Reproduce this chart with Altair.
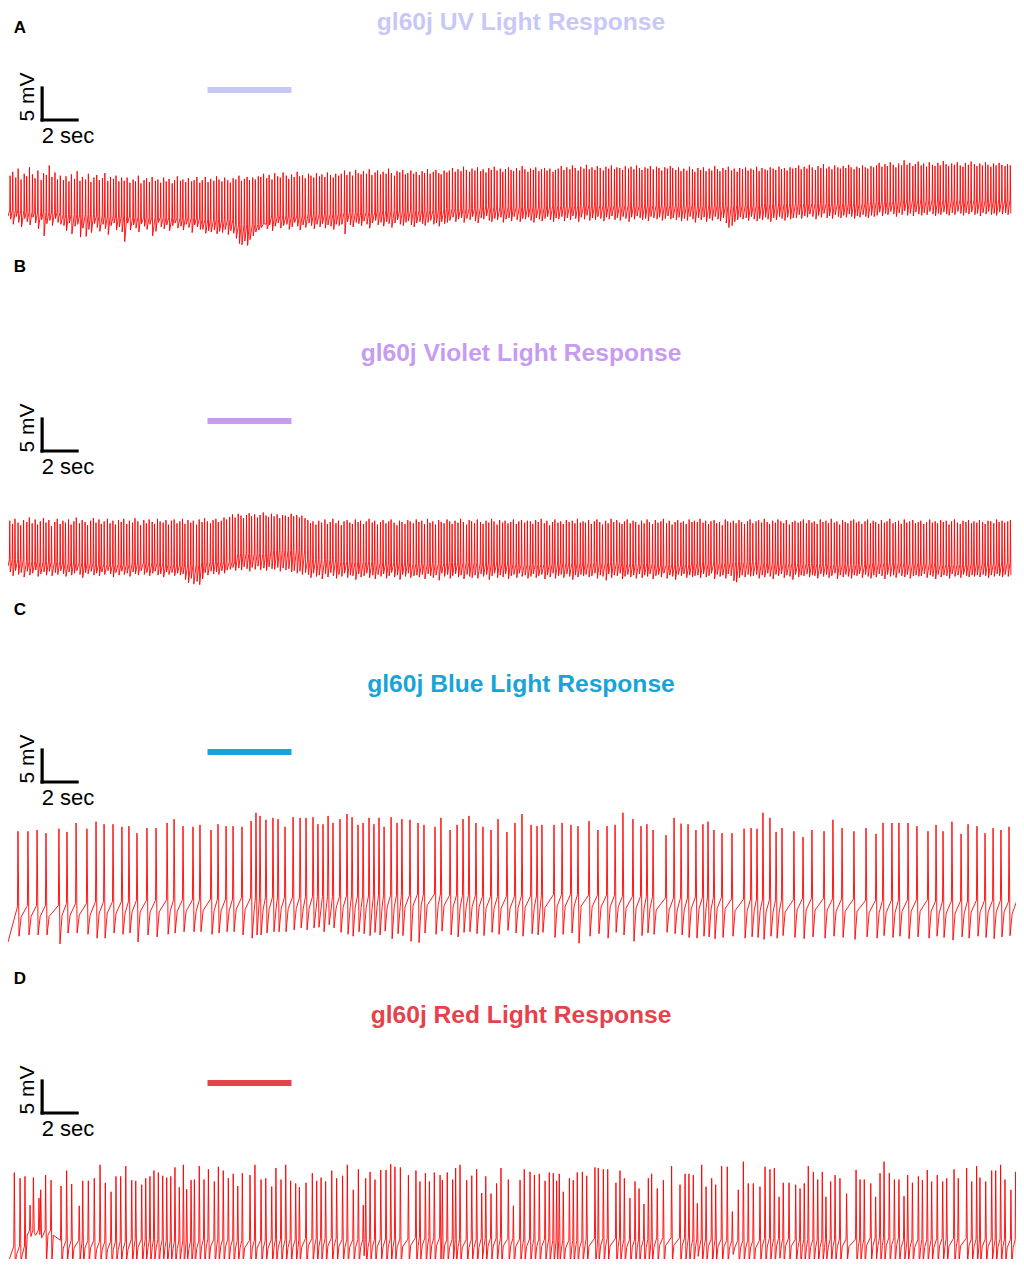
import altair as alt
import pandas as pd

# ---------------- sweep description (data units) ----------------
DURATION_S = 57.6             # seconds shown per sweep
MV_TOP = -20.0                # membrane potential at top of each panel
PX_PER_MV = 6.4               # layout: vertical scale (5 mV = 32 px)
SCALE_T0, SCALE_T = 1.95, 2.0         # "2 sec" scale bar
SCALE_V0, SCALE_V = -37.5, 5.0        # "5 mV" scale bar
STIM_ON, STIM_OFF, STIM_LEVEL = 11.4, 16.2, -32.8

TITLES = ["gl60j UV Light Response", "gl60j Violet Light Response",
          "gl60j Blue Light Response", "gl60j Red Light Response"]
COLORS = ["#c8c8f8", "#c79cf0", "#17a4d9", "#e6424b"]
START_MV = [-52.5, -55.5, -62.5, -61.0]

# ---------------- panel A (UV) ----------------
A_FIRST_S = 0.12
A_ISI_MS = [
    150,172,138,165,181,142,158,170,149,163,185,140,156,168,152,175,144,161,178,147,
    166,143,177,152,160,139,184,157,146,171,162,148,180,136,167,155,173,141,164,159,
    145,169,158,183,137,162,150,176,143,165,154,188,141,159,170,147,163,178,135,161,
    174,140,163,151,186,144,157,168,139,172,160,149,181,153,142,167,158,175,146,162,
    153,179,142,166,158,137,182,150,169,144,161,176,139,164,155,171,148,160,183,141,
    162,148,171,139,165,157,184,143,160,152,177,136,168,149,173,158,141,166,155,180,
    140,167,155,178,146,161,137,172,159,150,185,143,164,153,170,138,162,176,147,158,
    169,151,138,174,160,145,181,156,142,167,153,179,148,163,136,171,157,144,175,161,
    155,172,147,160,183,139,166,152,178,141,163,157,145,170,159,186,143,154,168,150,
    147,165,180,142,158,171,149,163,137,176,155,168,144,161,182,140,157,173,152,166,
    176,143,159,168,150,183,141,162,155,170,138,165,178,146,160,153,174,139,167,158,
    159,181,145,163,152,169,140,175,157,148,166,184,142,161,171,150,164,137,179,154,
    143,160,174,151,167,138,177,155,162,145,181,149,168,156,141,173,160,147,185,152,
    168,146,157,180,140,164,153,171,145,162,176,139,158,167,151,182,143,165,154,170,
    151,177,163,144,172,156,139,168,181,147,160,153,174,142,166,158,179,146,161,149,
    164,139,170,157,148,175,162,141,183,152,167,145,159,176,138,163,171,150,157,168,
    146,169,152,178,143,161,174,140,165,156,181,148,162,137,172,159,145,177,153,166,
    171,154,141,167,159,185,147,163,150,176,139,168,155,142,173,160,179,144,158,151,
]
A_PEAK_MV = [
    -46.2,-45.6,-46.5,-45.1,-46.8,-45.9,-46.3,-44.9,-46.0,-46.6,-45.4,-46.9,-45.8,-46.1,-44.6,-46.4,-45.7,-46.8,-46.2,
    -46.9,-46.3,-47.1,-46.0,-46.7,-45.5,-47.0,-46.4,-46.8,-45.9,-47.2,-46.5,-46.1,-46.9,-46.6,-45.8,-47.0,-46.4,-46.7,-46.2,-47.1,-46.5,
    -47.0,-46.5,-47.3,-46.8,-47.1,-46.2,-47.4,-46.9,-46.6,-47.2,-46.4,-47.0,-46.8,-47.3,-46.5,-47.1,-46.7,-47.4,-46.9,-46.3,-47.0,-46.8,-47.2,-46.6,-47.1,-46.9,-46.4,-47.3,
    -46.9,-46.4,-47.2,-46.7,-47.0,-46.3,-46.8,-47.1,-46.5,-46.9,-47.3,-46.6,-46.8,-46.2,-47.0,-46.7,-46.4,-46.9,-46.5,-46.8,-46.3,
    -46.4,-45.9,-46.6,-46.1,-46.8,-45.8,-46.3,-46.5,-45.7,-46.2,-46.7,-46.0,-46.4,-45.6,-46.3,-46.1,-46.6,-45.9,-46.2,-46.5,-45.8,-46.3,-46.0,-46.4,-45.7,-46.1,-46.5,-45.9,-46.2,
    -45.9,-45.4,-46.1,-45.6,-46.2,-45.3,-45.8,-46.0,-45.5,-45.9,-45.2,-46.1,-45.7,-45.4,-46.0,-45.6,-45.9,-45.1,-45.8,-46.2,
    -45.5,-45.7,-45.3,-46.0,-45.8,-45.4,-45.9,-45.6,-46.1,-45.5,-45.8,-45.2,-45.9,-45.6,-45.3,-45.8,-46.0,-45.4,-45.7,
    -45.4,-45.0,-45.6,-45.2,-45.5,-44.8,-45.3,-45.6,-45.1,-45.4,-44.9,-45.5,-45.2,-45.7,-45.0,-45.3,-44.8,-45.4,-45.1,-45.6,
    -45.2,-44.9,-45.3,-45.5,-45.0,-45.4,-44.7,-45.2,-45.6,-45.1,-45.3,-44.9,-45.5,-45.2,-45.0,-45.4,-45.1,-45.6,-45.3,
    -45.1,-44.7,-45.3,-44.9,-45.2,-44.6,-45.0,-45.4,-44.8,-45.1,-44.5,-45.2,-44.9,-45.3,-44.7,-45.0,-45.4,-44.8,-45.1,-44.6,-45.2,
    -44.9,-45.0,-45.3,-44.7,-45.1,-44.8,-45.2,-44.6,-45.0,-45.3,-44.9,-45.1,-44.7,-45.2,-44.8,-45.0,-45.4,-44.9,-45.1,-44.7,-45.0,
    -45.3,-44.9,-45.5,-45.1,-45.4,-44.8,-45.2,-45.6,-45.0,-45.3,-44.9,-45.5,-45.1,-45.4,-44.7,-45.2,-45.5,-45.0,-45.3,-44.8,-45.4,-45.1,
    -45.6,-45.0,-45.2,-44.9,-45.4,-45.1,-45.3,-44.8,-45.5,-45.0,-45.2,-45.4,-44.9,-45.1,-45.3,-44.8,-45.2,-45.0,-45.4,-44.9,-45.1,
    -45.0,-44.6,-45.2,-44.8,-45.1,-44.5,-44.9,-45.3,-44.7,-45.0,-44.4,-45.1,-44.8,-45.2,-44.6,-44.9,-45.1,-44.7,-45.0,-44.5,-44.9,-45.2,-44.8,-45.0,-44.6,-44.9,-45.1,-44.7,-44.9,
    -44.6,-44.2,-44.8,-44.4,-44.7,-44.1,-44.5,-44.9,-44.3,-44.6,-43.8,-44.5,-44.2,-44.7,-44.4,-44.0,-44.6,-44.3,-44.8,-44.1,-44.5,-44.7,-44.2,-44.6,-43.9,
    -44.4,-44.7,-44.3,-44.5,-44.1,-44.6,-44.8,-44.2,-44.5,-44.0,-44.4,-44.7,-44.3,-44.6,-44.1,-44.5,-44.8,-44.3,-44.6,-44.2,-44.5,-44.7,-44.4,-44.6,
]
A_TROUGH_MV = [
    -53.0,-53.8,-52.6,-53.5,-54.2,-52.9,-53.4,-53.9,-52.7,-53.6,-54.5,-53.1,-55.6,-53.7,-53.2,-54.0,-52.9,-53.5,-53.8,
    -54.0,-54.8,-53.6,-55.3,-54.1,-53.8,-55.8,-54.4,-55.7,-54.6,-55.1,-53.7,-54.3,-54.9,-53.8,-54.5,-55.4,-54.0,-53.6,-54.7,-54.2,-55.0,
    -56.5,-53.6,-54.7,-53.9,-54.4,-55.0,-53.7,-54.1,-54.6,-53.8,-55.6,-54.9,-53.5,-54.2,-54.5,-53.9,-54.8,-54.0,-53.6,-54.4,-54.1,-54.7,-53.8,-54.3,-55.1,-53.9,-54.2,-54.6,
    -54.6,-55.2,-54.8,-55.0,-54.7,-55.3,-54.9,-55.1,-54.6,-55.4,-54.8,-55.2,-56.0,-56.8,-57.0,-56.4,-57.1,-56.2,-55.6,-55.0,-54.7,
    -54.3,-53.7,-54.5,-53.9,-54.8,-54.1,-53.6,-54.4,-54.0,-53.8,-54.6,-54.2,-53.5,-54.1,-54.7,-53.9,-54.3,-53.6,-54.0,-54.5,-53.8,-54.2,-53.7,-54.4,-53.9,-54.1,-54.6,-53.8,-54.0,
    -53.8,-55.3,-53.4,-53.9,-54.2,-53.5,-53.7,-54.0,-53.3,-53.8,-54.4,-53.6,-53.2,-53.9,-53.5,-54.1,-53.4,-53.7,-54.3,-53.6,
    -53.1,-53.8,-54.0,-53.5,-53.3,-53.9,-54.2,-53.6,-53.4,-53.7,-54.0,-53.5,-53.2,-53.8,-53.6,-54.1,-53.4,-53.7,-53.5,
    -53.2,-52.7,-53.4,-53.0,-52.8,-53.5,-52.9,-53.1,-52.6,-53.3,-53.6,-52.8,-53.0,-52.5,-53.2,-53.4,-52.9,-53.1,-52.7,-53.5,
    -53.0,-52.8,-53.3,-52.6,-53.1,-53.4,-52.9,-53.0,-52.7,-53.2,-53.5,-52.8,-53.0,-53.3,-52.9,-52.6,-53.1,-53.4,-52.8,
    -53.0,-52.6,-53.3,-52.8,-53.1,-52.5,-52.9,-53.4,-52.7,-53.0,-52.4,-53.2,-52.8,-53.1,-52.6,-52.9,-53.3,-52.7,-53.0,-52.5,-53.1,
    -52.8,-53.2,-52.6,-52.9,-53.4,-52.7,-53.0,-52.5,-52.8,-53.1,-52.9,-53.3,-52.6,-52.8,-53.0,-52.7,-53.2,-52.9,-52.5,-53.0,-52.8,
    -53.1,-52.7,-53.3,-52.9,-53.2,-52.6,-53.0,-53.5,-52.8,-53.1,-52.7,-53.4,-52.9,-53.2,-52.6,-53.0,-53.3,-52.8,-53.6,-54.3,-54.0,-53.4,
    -53.1,-52.7,-53.0,-52.8,-53.2,-52.6,-53.0,-53.3,-52.9,-53.1,-52.7,-53.0,-53.4,-52.8,-53.1,-52.6,-52.9,-53.2,-52.7,-53.0,-52.8,
    -52.8,-52.3,-52.9,-52.5,-52.7,-52.2,-52.6,-53.0,-52.4,-52.7,-52.1,-52.8,-52.5,-52.9,-52.3,-52.6,-52.8,-52.4,-52.7,-52.2,-52.6,-52.9,-52.5,-52.7,-52.3,-52.6,-52.8,-52.4,-52.6,
    -52.4,-51.9,-52.5,-52.1,-52.3,-51.8,-52.2,-52.6,-52.0,-52.3,-51.7,-52.4,-52.1,-52.5,-51.9,-52.2,-52.4,-52.0,-52.3,-51.8,-52.2,-52.5,-52.1,-52.3,-51.9,
    -52.2,-52.4,-52.0,-52.3,-51.8,-52.1,-52.4,-52.0,-52.2,-51.9,-52.3,-52.1,-52.5,-52.0,-52.2,-51.8,-52.3,-52.1,-52.4,-51.9,-52.2,-52.0,-52.3,-52.1,
]
A_REST_MV = [-51.6,-51.9,-52.3,-52.5,-52.7,-52.8,-53.1,-53.8,-52.5,-52.2,-51.9,-51.7,-51.6,-51.3,-51.1,
             -51.1,-50.9,-50.8,-50.8,-50.8,-50.8,-50.8,-50.6,-50.5,-50.5,-50.2,-50.0,-50.0,-50.0,-50.0]

# ---------------- panel B (violet) ----------------
B_FIRST_S = 0.10
B_ISI_MS = [
    158,141,176,150,167,183,144,162,171,139,155,178,147,164,152,186,140,169,157,145,
    173,149,160,137,181,154,166,143,175,158,148,169,136,162,184,151,164,142,177,156,
    147,168,153,179,140,163,157,185,144,161,172,138,166,150,174,159,143,170,155,162,
    165,152,139,174,158,146,182,153,167,141,160,176,149,163,137,171,156,145,179,160,
    150,177,161,143,169,155,138,172,164,148,183,157,141,168,153,175,146,162,159,170,
    161,144,173,156,139,178,165,150,142,171,158,167,185,145,160,152,176,140,164,157,
    176,155,146,168,160,137,174,151,163,180,143,159,170,148,166,154,139,172,161,147,
    144,171,159,138,182,164,149,167,153,175,141,160,156,179,146,163,170,152,137,168,
    169,147,163,177,151,140,166,158,184,145,172,154,161,139,175,150,164,143,168,156,
    153,166,142,160,174,157,171,139,162,148,169,181,144,158,163,136,177,155,149,172,
    162,179,150,145,167,153,140,176,159,170,147,163,155,183,141,168,152,174,160,138,
    140,158,172,164,149,181,155,146,168,137,175,160,151,166,144,179,157,162,170,153,
    178,145,157,170,162,139,167,154,173,150,159,142,180,148,165,156,171,138,163,159,
    155,169,148,163,176,143,160,184,146,171,152,166,139,174,157,145,168,161,150,177,
    167,151,181,142,158,172,149,165,138,162,178,154,170,143,161,176,147,159,166,152,
    149,174,160,155,141,168,183,147,164,156,140,173,158,167,150,163,181,144,171,157,
    171,143,166,178,153,160,145,170,157,182,149,164,137,175,152,168,159,146,162,174,
    160,156,170,147,172,138,163,151,179,144,167,155,173,161,142,169,148,177,153,165,
]
B_PEAK_MV = [
    -48.4,-48.9,-48.1,-48.7,-49.1,-48.3,-48.6,-47.9,-48.8,-48.2,-49.0,-48.5,-48.0,-48.7,-48.3,-49.2,-48.6,-48.1,-48.9,-48.4,
    -48.7,-48.2,-49.0,-48.5,-47.9,-48.8,-48.3,-48.6,-49.1,-48.4,-48.0,-48.7,-48.2,-48.9,-48.5,-48.1,-48.8,-48.4,-49.0,-48.3,
    -48.6,-48.1,-48.9,-48.4,-48.7,-48.0,-48.5,-49.1,-48.3,-48.8,-48.2,-48.6,-48.9,-48.1,-48.5,-48.7,-48.3,-49.0,-48.4,-48.2,
    -48.8,-48.5,-48.1,-48.9,-48.3,-48.7,-48.4,-49.0,-48.2,-48.6,-48.0,-48.5,-48.8,-48.3,-48.1,-48.6,-48.4,-47.9,-48.2,
    -47.8,-47.4,-47.9,-47.3,-47.6,-48.0,-47.5,-47.2,-47.7,-47.4,-47.9,-47.5,-47.1,-47.6,-47.8,-47.3,-47.7,-47.4,-48.0,-47.5,
    -47.6,-47.8,-47.3,-47.7,-47.5,-47.9,-47.6,-48.0,
    -48.3,-48.8,-48.5,-49.0,-48.4,-48.7,-48.2,-48.9,-48.6,-48.1,-48.8,-48.4,-49.1,-48.5,-48.3,-48.7,-48.9,-48.2,-48.6,-48.4,
    -48.9,-48.5,-48.1,-48.7,-48.4,-49.0,-48.6,-48.3,-48.8,-48.5,-48.2,-48.7,-49.1,-48.4,-48.6,-48.9,-48.3,-48.5,-48.8,-48.2,
    -48.6,-48.4,-48.9,-48.1,-48.7,-48.5,-49.0,-48.3,-48.6,-48.8,-48.2,-48.5,-48.9,-48.4,-48.7,-48.1,-48.6,-49.0,-48.3,-48.5,
    -48.8,-48.2,-48.6,-48.9,-48.4,-48.7,-48.1,-48.5,-49.0,-48.3,-48.7,-48.4,-48.8,-48.6,-48.2,-48.9,-48.5,-48.3,-48.7,-48.4,
    -48.5,-48.9,-48.3,-48.6,-48.1,-48.8,-48.4,-49.1,-48.6,-48.2,-48.7,-48.5,-48.9,-48.3,-48.6,-48.4,-48.8,-48.1,-48.7,-48.5,
    -48.7,-48.3,-48.9,-48.5,-48.2,-48.6,-49.0,-48.4,-48.8,-48.1,-48.6,-48.3,-48.7,-48.9,-48.5,-48.2,-48.8,-48.4,-48.6,-49.0,
    -48.4,-48.8,-48.2,-48.6,-48.9,-48.3,-48.7,-48.5,-48.1,-48.8,-48.4,-49.0,-48.6,-48.3,-48.7,-48.5,-48.9,-48.2,-48.6,-48.4,
    -48.6,-48.1,-48.7,-48.4,-48.9,-48.5,-48.3,-48.8,-48.6,-49.1,-48.2,-48.5,-48.7,-48.4,-48.8,-48.3,-48.6,-48.9,-48.5,-48.2,
    -48.8,-48.5,-48.3,-48.7,-48.1,-48.6,-48.9,-48.4,-48.7,-48.2,-48.5,-48.8,-48.3,-49.0,-48.6,-48.4,-48.7,-48.5,-48.2,-48.8,
    -48.3,-48.7,-48.5,-48.9,-48.2,-48.6,-48.4,-48.8,-48.1,-48.7,-48.5,-49.0,-48.3,-48.6,-48.8,-48.4,-48.2,-48.7,-48.5,-48.9,
    -48.5,-48.2,-48.8,-48.4,-48.6,-48.9,-48.3,-48.7,-48.5,-48.1,-48.8,-48.6,-48.4,-48.9,-48.2,-48.7,-48.5,-48.3,-48.8,-48.6,
    -48.4,-48.9,-48.6,-48.2,-48.7,-48.5,-48.8,-48.3,-48.6,-48.4,-49.0,-48.5,-48.2,-48.7,-48.9,-48.4,-48.6,-48.3,-48.8,-48.5,
    -48.7,-48.3,-48.6,-48.9,-48.4,-48.5,-48.8,-48.2,-48.6,-48.4,-48.7,-48.5,-48.3,
]
B_TROUGH_MV = [
    -56.4,-57.0,-56.2,-56.8,-56.5,-57.2,-56.3,-56.9,-56.6,-56.1,-57.1,-56.7,-56.4,-56.9,-56.3,-57.0,-56.5,-56.8,-56.2,-56.7,
    -57.1,-56.4,-56.9,-56.6,-56.2,-56.8,-57.3,-56.5,-56.7,-56.3,-56.9,-56.6,-57.0,-56.4,-56.8,-56.2,-56.7,-57.2,-56.5,-56.9,
    -56.3,-56.8,-56.6,-57.1,-56.4,-56.7,-56.9,-56.2,-56.8,-56.5,-57.0,-56.6,-56.3,-56.9,-56.7,-57.2,-56.4,-56.8,-56.5,-57.0,
    -56.6,-56.9,-56.7,
    -57.6,-58.1,-57.4,-58.3,-57.9,-58.4,-57.5,
    -56.5,-56.9,-56.3,-56.7,-56.4,-56.8,-56.2,-56.6,-56.1,
    -56.0,-55.7,-56.2,-55.8,-56.1,-55.6,-55.9,-56.3,-55.7,-56.0,-55.5,-56.1,-55.8,-56.2,-55.6,-55.9,-56.0,-55.7,-56.3,-55.8,
    -56.1,-55.9,-56.4,-56.2,-56.6,-56.3,-56.8,-56.5,
    -56.8,-57.3,-56.6,-57.1,-56.9,-57.5,-56.7,-57.2,-56.5,-57.0,-57.4,-56.8,-57.1,-56.6,-57.3,-56.9,-57.0,-57.6,-56.7,-57.2,
    -57.0,-56.6,-57.3,-56.9,-57.5,-56.8,-57.1,-56.7,-57.4,-57.0,-56.5,-57.2,-56.9,-57.6,-56.8,-57.1,-56.6,-57.3,-57.0,-56.9,
    -57.2,-56.8,-57.5,-56.7,-57.0,-57.3,-56.9,-57.7,-56.6,-57.1,-56.8,-57.4,-57.0,-56.7,-57.2,-56.9,-57.5,-56.8,-57.1,-57.3,
    -56.9,-57.4,-56.7,-57.1,-56.8,-57.6,-57.0,-56.6,-57.3,-56.9,-57.2,-56.7,-57.5,-57.0,-56.8,-57.3,-56.6,-57.1,-56.9,-57.4,
    -57.1,-56.7,-57.3,-57.0,-56.8,-57.5,-56.9,-57.2,-56.6,-57.4,-57.0,-56.8,-57.3,-56.7,-57.1,-57.6,-56.9,-57.2,-56.8,-57.0,
    -56.8,-57.2,-57.0,-56.6,-57.4,-56.9,-57.1,-57.7,-56.7,-57.3,-56.9,-57.0,-56.6,-57.5,-57.1,-56.8,-57.2,-56.9,-57.4,-56.7,
    -57.3,-56.9,-57.1,-56.7,-57.5,-57.0,-56.8,-57.2,-56.6,-57.4,-56.9,-57.1,-57.6,-56.8,-57.0,-56.7,-57.3,-56.9,-57.2,-57.0,
    -56.9,-57.3,-56.7,-57.2,-57.0,-56.6,-57.5,-56.8,-57.1,-56.9,-57.4,-56.7,-57.0,-57.8,-58.0,-57.3,-56.9,-57.2,-56.8,-57.1,
    -57.0,-56.8,-57.4,-56.9,-57.2,-56.6,-57.1,-57.5,-56.8,-57.0,-56.7,-57.3,-56.9,-57.1,-57.6,-56.8,-57.2,-56.9,-57.0,-56.7,
    -57.2,-56.9,-57.0,-57.4,-56.7,-57.1,-56.8,-57.3,-57.0,-56.6,-57.5,-56.9,-57.2,-56.8,-57.1,-57.4,-56.9,-57.0,-56.7,-57.3,
    -56.8,-57.1,-57.4,-56.9,-57.2,-56.7,-57.0,-57.5,-56.8,-57.1,-56.9,-57.3,-56.6,-57.0,-57.2,-56.8,-57.4,-57.0,-56.9,-57.1,
    -57.0,-56.7,-57.3,-56.9,-57.1,-57.5,-56.8,-57.2,-56.9,-57.0,-57.4,-56.7,-57.1,-56.9,-57.3,-56.8,-57.0,-57.2,-56.9,-57.1,
    -56.9,-57.2,-56.8,-57.0,-57.3,-56.9,-57.1,-56.7,-57.0,-57.2,-56.8,-57.1,-56.9,
]
B_REST_MV = [-54.5,-54.8,-55.0,-55.2,-55.0,-55.3,-54.8,-53.5,-53.0,-54.5,-54.8,-55.0,-55.1,-54.9,-55.0,
             -55.2,-55.0,-54.9,-55.1,-55.3,-55.0,-54.8,-55.0,-55.1,-55.2,-54.9,-55.0,-55.2,-55.0,-54.9]

# ---------------- panel C (blue) ----------------
C_SPIKE_S = [
    0.57,1.14,1.66,2.17,2.91,3.37,3.89,4.51,5.03,5.49,6.00,6.51,6.91,7.37,7.94,8.46,9.09,9.49,10.00,10.57,
    10.97,11.60,12.00,12.46,12.86,13.37,13.89,14.17,14.40,14.74,15.14,15.43,15.83,16.29,16.69,17.03,17.43,17.71,18.00,18.29,
    18.57,18.97,19.37,19.66,20.00,20.29,20.63,20.91,21.20,21.49,21.89,22.23,22.51,22.97,23.43,23.77,24.40,24.74,25.26,25.66,
    26.00,26.34,26.74,27.14,27.60,28.00,28.51,28.97,29.37,29.89,30.23,30.51,31.20,31.66,32.17,32.57,33.20,33.71,34.23,34.69,
    35.14,35.71,36.17,36.51,36.86,37.60,38.06,38.46,38.86,39.31,39.71,40.00,40.34,40.80,41.37,42.06,42.46,42.80,43.14,43.54,
    43.89,44.23,44.91,45.43,45.94,46.63,47.14,47.66,48.34,49.03,49.60,50.00,50.51,50.91,51.43,51.94,52.57,53.03,53.43,53.94,
    54.46,54.86,55.37,55.83,56.29,56.74,57.20,57.66,
]
C_PEAK_MV = [
    -45.2,-45.2,-45.0,-45.5,-44.8,-45.3,-43.9,-44.8,-43.7,-44.1,-44.1,-44.5,-44.4,-45.5,-44.7,-44.7,-43.9,-43.3,-44.4,-44.5,
    -44.2,-45.0,-44.1,-44.4,-44.4,-44.5,-43.6,-42.3,-42.8,-43.4,-43.1,-43.3,-44.5,-43.0,-43.1,-43.1,-43.0,-44.1,-44.1,-42.8,
    -43.9,
    -43.3,-42.5,-43.0,-44.2,-43.9,-43.1,-44.1,-43.1,-44.5,-43.0,-43.9,-43.3,-43.4,-43.9,-44.2,-44.5,-43.1,-45.0,-44.2,-43.3,
    -42.8,-43.9,-44.5,-45.0,-43.3,-45.3,-43.9,-42.5,-44.2,-44.4,-44.2,-44.2,-43.9,-44.2,-44.4,-43.6,-45.0,-44.4,-44.2,-42.3,
    -43.3,-44.4,-44.1,-45.0,-45.8,-43.1,-44.0,
    -44.1,-45.0,-44.1,-43.7,-45.0,-45.5,-45.5,-44.8,-44.7,-44.8,-42.3,-43.1,-45.3,-44.7,-45.2,-46.1,-45.0,-45.2,-43.4,-44.7,
    -45.2,-44.7,-45.6,-43.9,-43.9,-43.9,-43.9,-44.4,-45.2,-44.2,-45.2,-43.7,-45.6,-44.1,-44.4,-45.5,-44.7,-45.0,-44.5,-45.5,
]
C_TROUGH_MV = [
    -61.6,-61.4,-61.4,-61.4,-62.8,-61.1,-61.1,-61.3,-61.9,-61.9,-61.1,-61.3,-61.1,-62.5,-61.4,-61.7,-61.3,-61.1,-60.9,-60.9,
    -60.9,-61.3,-61.1,-60.9,-60.9,-61.4,-61.9,-61.4,-61.4,-61.1,-60.9,-60.9,-60.9,-60.6,-60.3,-60.6,-60.3,-60.2,-60.9,-59.8,
    -60.3,
    -61.0,-61.3,-61.6,-60.9,-61.2,-61.5,-61.0,-61.4,-60.8,-62.0,-61.2,-61.5,-62.4,-62.6,-61.1,-61.3,-60.8,-61.4,-61.7,-61.0,
    -60.9,-61.2,-61.5,-61.0,-61.3,-60.7,-61.1,-61.6,-61.2,-61.4,-61.0,-61.8,-61.3,-61.1,-62.7,-61.6,-61.2,-61.9,-61.0,-61.4,
    -62.4,-61.5,-61.1,-61.3,-61.0,-61.2,-61.4,
    -61.8,-61.9,-61.6,-61.7,-62.0,-61.8,-61.6,-61.9,-61.7,-61.8,-62.1,-61.6,-61.9,-61.5,-61.8,-62.0,-61.7,-61.9,-61.6,-61.8,
    -62.1,-61.7,-61.9,-61.5,-61.8,-61.6,-62.0,-61.7,-61.9,-61.6,-61.8,-62.2,-61.7,-61.9,-61.6,-61.8,-62.0,-61.7,-61.5,-61.8,
]
C_REST_MV = [-57.0,-56.8,-56.5,-56.2,-56.0,-55.9,-55.8,-55.6,-55.5,-55.4,-55.3,-55.2,-55.0,-55.2,-55.4,
             -55.3,-55.1,-55.2,-55.4,-55.6,-55.5,-55.8,-55.9,-55.7,-55.8,-56.0,-55.9,-56.1,-56.0,-56.2]
C_KNEE_MV = [-58.6,-58.5,-58.3,-58.0,-57.8,-57.7,-57.6,-57.4,-57.3,-57.2,-57.1,-57.0,-56.8,-57.0,-57.2,
             -57.1,-56.9,-57.0,-57.2,-57.5,-57.3,-57.6,-57.8,-57.5,-57.7,-57.9,-57.7,-58.0,-57.8,-58.1]

# ---------------- panel D (red) ----------------
D_SPIKE_S = [
    0.36,0.69,0.97,1.26,1.45,1.77,1.87,2.15,2.46,3.03,3.35,3.64,4.07,4.27,4.59,4.93,5.26,5.56,5.89,6.17,
    6.44,6.73,7.07,7.30,7.64,7.87,8.11,8.34,8.59,8.84,9.07,9.30,9.54,9.79,10.02,10.21,10.46,10.65,10.93,11.20,
    11.45,11.79,12.02,12.30,12.59,12.87,13.13,13.39,13.83,14.11,14.46,14.73,15.07,15.31,15.60,15.87,16.15,16.44,16.65,17.03,
    17.39,17.64,17.89,18.15,18.50,18.78,
    19.12,19.39,19.73,20.02,20.30,20.44,20.69,20.97,21.30,21.60,21.87,22.11,22.42,22.88,23.31,23.54,23.85,24.08,24.36,24.69,
    24.82,25.10,25.41,25.58,25.83,26.21,26.50,26.78,27.07,27.30,27.60,27.92,28.17,28.59,28.88,29.26,29.50,29.83,30.08,30.36,
    30.69,30.93,31.16,31.35,31.50,31.73,32.08,32.30,32.53,32.82,33.07,33.54,33.73,34.02,34.27,34.74,34.97,35.22,35.54,35.83,
    36.06,36.34,36.59,36.78,37.10,37.45,37.92,
    38.40,38.69,38.91,39.16,39.39,39.64,39.89,40.21,40.44,40.78,41.10,41.39,41.73,42.02,42.30,42.59,42.97,43.26,43.54,43.79,
    44.06,44.30,44.63,45.01,45.26,45.50,45.73,46.02,46.27,46.53,46.74,47.01,47.26,47.54,47.92,48.46,48.69,48.93,49.30,49.58,
    49.83,50.06,50.36,50.65,50.91,51.20,51.41,51.68,52.02,52.25,52.53,52.78,53.10,53.41,53.64,54.06,54.30,54.78,55.07,55.35,
    55.54,55.87,56.21,56.44,56.72,56.97,57.31,57.58,57.83,
]
D_PEAK_MV = [
    -46.8,-47.7,-47.4,-51.9,-47.6,-50.8,-49.5,-47.2,-48.0,-48.9,-46.5,-48.6,-52.0,-48.1,-48.1,-47.7,-45.6,-48.4,-49.8,-47.4,
    -47.4,-45.8,-48.0,-48.1,-48.7,-47.7,-47.4,-46.5,-46.8,-47.3,-47.6,-47.4,-46.0,-49.1,-45.6,-49.4,-48.0,-47.9,-45.8,-47.9,
    -46.3,-48.2,-45.9,-46.5,-47.7,-47.0,-48.9,-46.9,-47.2,-45.6,-47.9,-47.7,-49.0,-46.1,-47.9,-45.6,-48.1,-48.5,-49.1,-48.4,
    -46.9,-48.1,-47.6,-48.2,-46.5,-47.7,
    -47.3,-45.6,-49.5,-46.3,-51.9,-47.7,-46.7,-47.9,-46.4,-46.4,-45.5,-45.9,-46.0,-47.2,-46.5,-48.2,-46.9,-48.2,-46.8,-47.2,
    -48.0,-46.8,-47.9,-46.1,-45.6,-48.0,-47.3,-46.3,-50.0,-47.4,-50.1,-48.5,-46.1,-47.9,-52.0,-48.0,-46.3,-46.7,-47.2,-47.0,
    -48.1,-46.8,-46.9,-48.1,-47.0,-49.8,-47.7,-48.0,-46.8,-46.7,-47.3,-46.0,-46.1,-46.3,-46.3,-48.4,-46.5,-47.7,-50.8,-48.2,
    -49.3,-51.7,-47.7,-47.0,-49.3,-48.0,-45.8,
    -48.7,-47.0,-47.0,-47.2,-51.6,-45.6,-49.0,-47.7,-48.7,-45.8,-45.9,-52.9,-49.5,-45.1,-48.5,-48.5,-49.0,-45.9,-46.3,-46.1,
    -50.6,-48.4,-48.4,-48.7,-49.3,-48.5,-45.8,-46.7,-47.9,-46.7,-50.6,-48.2,-47.2,-47.7,-50.1,-46.4,-47.9,-47.9,-48.5,-50.6,
    -46.9,-45.1,-46.9,-47.9,-47.9,-50.5,-47.2,-48.4,-47.4,-48.0,-46.4,-48.2,-47.2,-48.2,-47.7,-46.3,-47.7,-46.1,-48.2,-45.8,
    -47.6,-48.2,-46.5,-46.5,-45.6,-47.9,-49.5,-46.7,-48.5,
]
D_TROUGH_MV = [
    -61.2,-60.6,-60.9,-56.8,-56.2,-56.5,-57.0,-61.3,-60.8,-61.5,-60.7,-61.1,-60.4,-61.4,-60.9,-61.2,-60.6,-61.0,-61.6,-60.8,
    -61.1,-60.5,-61.3,-60.9,-61.4,-60.7,-61.0,-60.6,-61.2,-60.9,-61.5,-60.8,-61.1,-60.6,-61.3,-60.7,-61.0,-61.4,-60.9,-61.2,
    -60.6,-61.5,-60.8,-61.1,-60.7,-61.3,-60.9,-61.0,-61.6,-60.8,-61.2,-60.6,-61.4,-60.9,-61.1,-60.7,-61.3,-61.0,-60.8,-61.5,
    -60.9,-61.2,-60.6,-61.0,-61.3,-60.8,
    -60.9,-61.3,-60.6,-61.1,-59.8,-61.4,-60.8,-61.2,-60.7,-61.5,-61.0,-60.6,-61.3,-60.9,-61.2,-60.5,-61.4,-60.8,-61.1,-60.7,
    -61.3,-61.0,-60.6,-61.6,-60.9,-61.2,-60.7,-61.4,-60.3,-61.1,-60.4,-61.0,-61.3,-60.8,-61.7,-61.1,-60.6,-61.2,-60.9,-61.4,
    -60.7,-61.0,-60.8,-61.3,-60.6,-61.1,-61.5,-60.9,-61.2,-60.7,-61.0,-61.3,-60.8,-61.1,-60.6,-61.4,-60.9,-61.2,-61.6,-60.8,
    -61.0,-61.3,-60.7,-61.1,-60.9,-61.4,-60.8,
    -61.0,-60.7,-61.3,-60.9,-59.9,-61.2,-60.8,-61.4,-60.6,-61.1,-60.9,-59.6,-61.3,-60.8,-61.0,-61.5,-60.7,-61.2,-60.9,-61.1,
    -60.2,-61.3,-60.8,-61.0,-61.4,-60.7,-61.2,-60.9,-61.1,-60.6,-60.3,-61.3,-60.8,-61.0,-60.5,-61.2,-60.9,-61.4,-60.7,-60.4,
    -61.1,-60.8,-61.3,-61.0,-60.7,-60.5,-61.2,-60.9,-61.4,-60.8,-61.1,-60.6,-61.3,-60.9,-61.0,-61.5,-60.7,-61.2,-60.8,-61.1,
    -60.9,-61.3,-60.6,-61.0,-61.4,-60.8,-61.2,-60.9,-61.1,
]
D_REST_MV = [-58.3,-55.8,-57.4,-57.6,-57.3,-57.5,-57.2,-57.4,-57.3,-57.1,-57.3,-57.2,-57.0,-57.3,-57.1,
             -57.2,-57.4,-57.1,-57.3,-57.0,-57.2,-57.4,-57.1,-57.3,-57.2,-57.0,-57.3,-57.1,-57.2,-57.3]
D_KNEE_MV = [-59.6,-56.6,-58.6,-58.8,-58.5,-58.7,-58.4,-58.6,-58.5,-58.3,-58.5,-58.4,-58.2,-58.5,-58.3,
             -58.4,-58.6,-58.3,-58.5,-58.2,-58.4,-58.6,-58.3,-58.5,-58.4,-58.2,-58.5,-58.3,-58.4,-58.5]


# ---------------- build traces ----------------
def times_from_isi(first, isi_ms):
    out = [first]
    for d in isi_ms:
        out.append(out[-1] + d / 1000.0)
    return out


def bin_of(t, seq):
    return min(int(t / 2.0 + 0.5), len(seq) - 1)


def make_trace(start, times, peaks, troughs, rest, up, down, knee=None, knee_dt=0.0):
    rows = [{"t": 0.0, "mV": start}]
    spikes = list(zip(times, peaks, troughs))
    for n, (t, p, tr) in enumerate(spikes):
        rows.append({"t": t - up, "mV": rest[bin_of(t, rest)]})
        rows.append({"t": t, "mV": p})
        rows.append({"t": t + down, "mV": tr})
        if knee is not None:
            tk = t + down + knee_dt
            nxt = spikes[n + 1][0] - up if n + 1 < len(spikes) else DURATION_S + 1
            if tk < nxt - 0.04:
                rows.append({"t": tk, "mV": knee[bin_of(tk, knee)]})
    return pd.DataFrame(rows)


traces = [
    make_trace(START_MV[0], times_from_isi(A_FIRST_S, A_ISI_MS), A_PEAK_MV, A_TROUGH_MV, A_REST_MV, 0.02, 0.03),
    make_trace(START_MV[1], times_from_isi(B_FIRST_S, B_ISI_MS), B_PEAK_MV, B_TROUGH_MV, B_REST_MV, 0.02, 0.03),
    make_trace(START_MV[2], C_SPIKE_S, C_PEAK_MV, C_TROUGH_MV, C_REST_MV, 0.03, 0.06, C_KNEE_MV, 0.12),
    make_trace(START_MV[3], D_SPIKE_S, D_PEAK_MV, D_TROUGH_MV, D_REST_MV, 0.03, 0.05, D_KNEE_MV, 0.08),
]

WIDTH = 1008
HEIGHTS = [331, 331, 331, 258]
LETTERS = [[("A", 20), ("B", 259)], [("C", 271)], [("D", 309)], []]
FONT = "Liberation Sans"


def panel(i):
    h = HEIGHTS[i]
    color = COLORS[i]
    xs = alt.Scale(domain=[0, DURATION_S], nice=False, zero=False)
    ys = alt.Scale(domain=[MV_TOP - h / PX_PER_MV, MV_TOP], nice=False, zero=False)
    X = alt.X("t:Q", scale=xs, axis=None)
    Y = alt.Y("mV:Q", scale=ys, axis=None)

    trace = alt.Chart(traces[i]).mark_line(
        color="#ff0000", strokeWidth=0.9, clip=True
    ).encode(x=X, y=Y)

    bars = pd.DataFrame({
        "t": [SCALE_T0, SCALE_T0],
        "t2": [SCALE_T0, SCALE_T0 + SCALE_T],
        "mV": [SCALE_V0, SCALE_V0],
        "mV2": [SCALE_V0 + SCALE_V, SCALE_V0],
    })
    scalebar = alt.Chart(bars).mark_rule(
        color="black", strokeWidth=3.2, strokeCap="square"
    ).encode(x=X, x2="t2:Q", y=Y, y2="mV2:Q")

    stim = alt.Chart(pd.DataFrame({"t": [STIM_ON], "t2": [STIM_OFF], "mV": [STIM_LEVEL]})).mark_rule(
        color=color, strokeWidth=6
    ).encode(x=X, x2="t2:Q", y=Y)

    title = alt.Chart(pd.DataFrame({"s": [TITLES[i]]})).mark_text(
        font=FONT, fontSize=24.6, fontWeight="bold", color=color, align="center", baseline="middle"
    ).encode(x=alt.value(513), y=alt.value(15), text="s:N")

    mv = alt.Chart(pd.DataFrame({"s": ["5 mV"]})).mark_text(
        font=FONT, fontSize=21, color="black", align="center", baseline="middle", angle=270
    ).encode(x=alt.value(20), y=alt.value(89), text="s:N")

    sec = alt.Chart(pd.DataFrame({"s": ["2 sec"]})).mark_text(
        font=FONT, fontSize=22, color="black", align="center", baseline="middle"
    ).encode(x=alt.value(60), y=alt.value(128), text="s:N")

    layers = [trace, scalebar, stim, title, mv, sec]
    for letter, ly in LETTERS[i]:
        layers.append(alt.Chart(pd.DataFrame({"s": [letter]})).mark_text(
            font=FONT, fontSize=17, fontWeight="bold", color="black", align="center", baseline="middle"
        ).encode(x=alt.value(12), y=alt.value(ly), text="s:N"))

    return alt.layer(*layers).properties(width=WIDTH, height=h)


chart = alt.vconcat(*[panel(i) for i in range(4)], spacing=0).properties(
    padding=0
).configure_view(stroke=None)

chart.save("out.html", embed_options={"renderer": "svg", "actions": False})
